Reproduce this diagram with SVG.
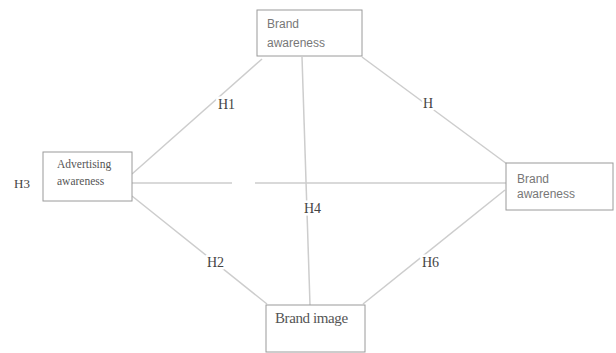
<svg xmlns="http://www.w3.org/2000/svg" width="616" height="353" viewBox="0 0 616 353">
<style>
.box{fill:#fff;stroke:#9a9a9a;stroke-width:1}
.conn{fill:none;stroke:#cdcdcd;stroke-width:1.5}
.sans{font-family:"Liberation Sans",Arial,sans-serif;font-size:12px;fill:#777}
.serif{font-family:"Liberation Serif","Times New Roman",serif;fill:#555}
.lbl{font-family:"Liberation Serif","Times New Roman",serif;font-size:14px;fill:#444;stroke:#fff;stroke-width:5;paint-order:stroke;stroke-linejoin:round}
</style>
<rect width="616" height="353" fill="#fff"/>
<g id="connectors">
<line class="conn" x1="132" y1="174" x2="262" y2="59"/>
<line class="conn" x1="362" y1="57" x2="507" y2="164"/>
<path class="conn" d="M132 183 H232 M255 183 H506"/>
<line class="conn" x1="302" y1="57" x2="310" y2="305"/>
<line class="conn" x1="132" y1="196" x2="267" y2="304"/>
<line class="conn" x1="505" y1="190" x2="363" y2="304"/>
</g>
<g id="labels">
<text class="lbl" x="218" y="109">H1</text>
<text class="lbl" x="423" y="108">H</text>
<text class="lbl" x="14" y="188" style="font-size:13px">H3</text>
<text class="lbl" x="304" y="213">H4</text>
<text class="lbl" x="207" y="267">H2</text>
<text class="lbl" x="422" y="267">H6</text>
</g>
<g id="node-brand-awareness-top">
<rect class="box" x="257" y="10" width="105" height="46"/>
<text class="sans" x="267" y="28">Brand</text>
<text class="sans" x="267" y="47">awareness</text>
</g>
<g id="node-advertising-awareness">
<rect class="box" x="43" y="152" width="89" height="49"/>
<text class="serif" x="57" y="168" font-size="11.5">Advertising</text>
<text class="serif" x="57" y="185" font-size="11.5">awareness</text>
</g>
<g id="node-brand-awareness-right">
<rect class="box" x="506" y="163" width="107" height="47"/>
<text class="sans" x="517" y="183">Brand</text>
<text class="sans" x="517" y="198">awareness</text>
</g>
<g id="node-brand-image">
<rect class="box" x="266" y="305" width="99" height="47"/>
<text class="serif" x="275" y="323" font-size="15" letter-spacing="-0.4">Brand image</text>
</g>
</svg>
